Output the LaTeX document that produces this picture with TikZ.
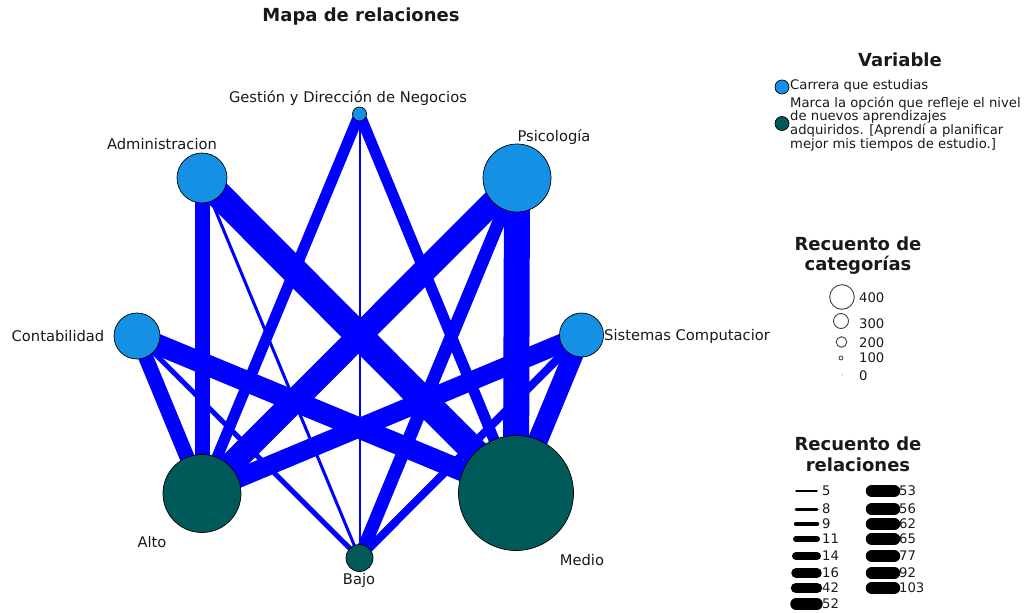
\documentclass[tikz,border=0pt]{standalone}
\usepackage{fontspec}
\setmainfont{DejaVu Sans}
\usetikzlibrary{backgrounds}
\definecolor{carrera}{RGB}{20,145,228}
\definecolor{nivel}{RGB}{0,90,90}
\definecolor{edgeblue}{RGB}{0,0,255}
\definecolor{txt}{RGB}{25,25,25}
\begin{document}
\begin{tikzpicture}[x=1pt,y=-1pt,
  cat/.style={circle, draw=black, line width=0.7pt, fill=carrera, inner sep=0pt},
  lvl/.style={circle, draw=black, line width=0.7pt, fill=nivel, inner sep=0pt},
  lbl/.style={font=\fontsize{14.7}{16}\selectfont, text=txt, inner sep=0pt},
  legtxt/.style={font=\fontsize{13.2}{14}\selectfont, text=txt, inner sep=0pt, anchor=west},
  legtitle/.style={font=\bfseries\fontsize{18}{21}\selectfont, text=txt, inner sep=0pt},
  rel/.style={draw=edgeblue},
  keycirc/.style={circle, draw=black!75, line width=0.9pt, fill=white, inner sep=0pt},
  relkey/.style={line cap=round, draw=black}]
\useasboundingbox (0,0) rectangle (1029,613);

% category nodes
\node[cat, minimum size=14pt] (G) at (359.5,114) {};
\node[cat, minimum size=50pt] (A) at (202,178) {};
\node[cat, minimum size=68pt] (P) at (517,178) {};
\node[cat, minimum size=46pt] (C) at (137,336) {};
\node[cat, minimum size=44pt] (S) at (581.5,335) {};
\node[lvl, minimum size=78pt] (Alto) at (202,493.5) {};
\node[lvl, minimum size=115pt] (Medio) at (516,493) {};
\node[lvl, minimum size=27pt] (Bajo) at (359.5,558) {};

% edges
\begin{pgfonlayer}{background}
\draw[rel, line width=15pt] (A.center) -- (Alto.center);
\draw[rel, line width=27pt] (A.center) -- (Medio.center);
\draw[rel, line width=3pt] (A.center) -- (Bajo.center);
\draw[rel, line width=11pt] (G.center) -- (Alto.center);
\draw[rel, line width=11pt] (G.center) -- (Medio.center);
\draw[rel, line width=2pt] (G.center) -- (Bajo.center);
\draw[rel, line width=24pt] (P.center) -- (Alto.center);
\draw[rel, line width=26pt] (P.center) -- (Medio.center);
\draw[rel, line width=13pt] (P.center) -- (Bajo.center);
\draw[rel, line width=15pt] (C.center) -- (Alto.center);
\draw[rel, line width=21pt] (C.center) -- (Medio.center);
\draw[rel, line width=5pt] (C.center) -- (Bajo.center);
\draw[rel, line width=19pt] (S.center) -- (Alto.center);
\draw[rel, line width=20pt] (S.center) -- (Medio.center);
\draw[rel, line width=8pt] (S.center) -- (Bajo.center);
\end{pgfonlayer}

% node labels
\node[lbl] (Glbl) at (348,98) {Gestión y Dirección de Negocios};
\node[lbl] (Albl) at (162,144) {Administracion};
\node[lbl] (Plbl) at (554,137) {Psicología};
\node[lbl] (Clbl) at (58,336) {Contabilidad};
\node[lbl, anchor=west] (Slbl) at (604,336) {Sistemas Computacior};
\node[lbl] (Altolbl) at (152,542) {Alto};
\node[lbl] (Mediolbl) at (582,560) {Medio};
\node[lbl] (Bajolbl) at (359,580) {Bajo};

% title
\node[legtitle] (title) at (361,17) {Mapa de relaciones};

% variable legend
\node[legtitle] (vartitle) at (900,60) {Variable};
\node[cat, minimum size=14pt] (kc) at (782,87) {};
\node[legtxt] (kct) at (790,86) {Carrera que estudias};
\node[lvl, minimum size=14pt] (kl) at (782,123.5) {};
\node[legtxt] (klt1) at (790,104) {Marca la opción que refleje el nivel};
\node[legtxt] (klt2) at (790,117) {de nuevos aprendizajes};
\node[legtxt] (klt3) at (790,131) {adquiridos. [Aprendí a planificar};
\node[legtxt] (klt4) at (790,145) {mejor mis tiempos de estudio.]};

% category count legend
\node[legtitle] (cattitle1) at (858,244) {Recuento de};
\node[legtitle] (cattitle2) at (858,265) {categorías};
\node[keycirc, minimum size=24.6pt] (k400) at (842,297) {};
\node[keycirc, minimum size=15pt] (k300) at (841,321) {};
\node[keycirc, minimum size=10.6pt] (k200) at (841.5,342) {};
\node[keycirc, minimum size=4pt, line width=0.8pt] (k100) at (841,358) {};
\fill[black!50] (842,375) circle (0.6);
\node[legtxt] (k400t) at (859,298) {400};
\node[legtxt] (k300t) at (859,324) {300};
\node[legtxt] (k200t) at (859,343) {200};
\node[legtxt] (k100t) at (859,358) {100};
\node[legtxt] (k0t) at (859,376) {0};

% relation count legend
\node[legtitle] (reltitle1) at (858,444) {Recuento de};
\node[legtitle] (reltitle2) at (858,465) {relaciones};
\foreach \v/\yy in {5/491,8/509,9/524,11/539,14/556,16/573,42/588,52/604}
  \node[legtxt] at (822,\yy) {\v};
\foreach \v/\yy in {53/491,56/509,62/524,65/539,77/556,92/573,103/588}
  \node[legtxt] at (899,\yy) {\v};
\foreach \w/\yy in {1.5/491,3/509,4.5/524,6/539,8/556,9.5/573,10.5/588,11.5/604}
  \draw[relkey, line width=\w pt] (796,\yy) -- (817,\yy);
\foreach \yy in {491,509,524,539,556,573,588}
  \draw[relkey, line width=12.5pt] (872,\yy) -- (894,\yy);
\end{tikzpicture}
\end{document}
